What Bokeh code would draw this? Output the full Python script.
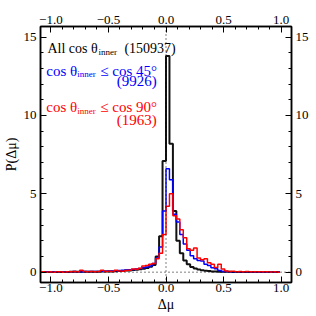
import numpy as np
from bokeh.plotting import figure
from bokeh.models import (Range1d, LinearAxis, SingleIntervalTicker, Span, Label,
                          CustomJSTickFormatter, BasicTickFormatter)
from bokeh.embed import file_html
from bokeh.resources import INLINE

# ---- data ----
BIN_START = -1.08
BIN_WIDTH = 0.03

all_vals = [0.01, 0.01, 0.01, 0.01, 0.01, 0.01, 0.01, 0.01, 0.02, 0.02, 0.02, 0.02, 0.02,
            0.02, 0.03, 0.03, 0.03, 0.04, 0.04, 0.05, 0.05, 0.06, 0.07, 0.08, 0.10, 0.11,
            0.13, 0.15, 0.18, 0.22, 0.27, 0.35, 0.45, 1.0, 2.3, 7.1,
            13.8, 8.2, 3.9, 2.0, 1.2, 0.75, 0.5, 0.33, 0.24, 0.17, 0.12, 0.09, 0.07, 0.05,
            0.04, 0.03, 0.03, 0.02, 0.02,
            0.01, 0.01, 0.01, 0.01, 0.01, 0.01, 0.01, 0.01, 0.01, 0.01, 0.01, 0.01, 0.01, 0.01]

blue_vals = [0.02, 0.02, 0.03, 0.02, 0.03, 0.02, 0.03, 0.03, 0.02, 0.04, 0.03, 0.03, 0.04,
             0.04, 0.05, 0.04, 0.05, 0.06, 0.06, 0.07, 0.08, 0.09, 0.10, 0.12, 0.13, 0.15,
             0.17, 0.20, 0.24, 0.28, 0.33, 0.40, 0.55, 0.90, 1.6, 3.9,
             6.6, 5.9, 3.7, 3.2, 2.4, 1.8, 1.4, 1.05, 0.85, 0.75, 0.72, 0.50, 0.42, 0.28,
             0.22, 0.10, 0.05, 0.04, 0.03,
             0.03, 0.03, 0.02, 0.02, 0.02, 0.02, 0.01, 0.01, 0.01, 0.01, 0.01, 0.01, 0.01, 0.01]

red_vals = [0.02, 0.0, 0.02, 0.0, 0.03, 0.02, 0.0, 0.03, 0.02, 0.04, 0.02, 0.12, 0.05,
            0.03, 0.05, 0.02, 0.04, 0.12, 0.05, 0.06, 0.04, 0.12, 0.08, 0.06, 0.10, 0.12,
            0.20, 0.18, 0.25, 0.40, 0.43, 0.50, 0.55, 0.85, 1.2, 2.4,
            4.2, 5.0, 3.6, 3.4, 2.7, 2.2, 1.5, 1.4, 1.55, 0.9, 0.8, 0.85, 0.6, 0.5,
            0.3, 0.5, 0.2, 0.08, 0.05,
            0.06, 0.03, 0.05, 0.02, 0.04, 0.03, 0.02, 0.03, 0.02, 0.02, 0.03, 0.01, 0.02, 0.0]

x_ticks_major = 0.5
y_ticks_major = 5

label_all = ("All cos θ", "inner", "(150937)")
label_45 = ("cos θ", "inner", "≤ cos 45°", "(9926)")
label_90 = ("cos θ", "inner", "≤ cos 90°", "(1963)")
x_title = "Δμ"
y_title = "P(Δμ)"

FONT = "Liberation Serif"

edges = BIN_START + BIN_WIDTH * np.arange(len(all_vals) + 1)


def step_xy(vals):
    return list(edges), list(vals) + [vals[-1]]


p = figure(width=316, height=316, x_range=Range1d(-1.09, 1.09), y_range=Range1d(-0.66, 15.68),
           output_backend="svg", toolbar_location=None,
           x_axis_location=None, y_axis_location=None,
           min_border_left=36, min_border_right=25, min_border_top=26, min_border_bottom=34)
p.xgrid.visible = False
p.ygrid.visible = False
p.outline_line_color = "black"
p.outline_line_width = 1.5
p.background_fill_color = "white"
p.border_fill_color = "white"

xfmt_code = "return (tick < -1e-9 ? '\u2212' : '') + Math.abs(tick).toFixed(1);"


def make_axis(kind, standoff):
    if kind == "x":
        tk = SingleIntervalTicker(interval=x_ticks_major, num_minor_ticks=5)
        fmt = CustomJSTickFormatter(code=xfmt_code)
    else:
        tk = SingleIntervalTicker(interval=y_ticks_major, num_minor_ticks=5)
        fmt = BasicTickFormatter()
    ax = LinearAxis(ticker=tk, formatter=fmt)
    ax.major_tick_in = 6
    ax.major_tick_out = 0
    ax.minor_tick_in = 3
    ax.minor_tick_out = 0
    ax.axis_line_color = "black"
    ax.axis_line_width = 1.5
    ax.major_tick_line_color = "black"
    ax.minor_tick_line_color = "black"
    ax.major_label_text_font = FONT
    ax.major_label_text_font_size = "13px"
    ax.major_label_text_color = "black"
    ax.major_label_standoff = standoff
    ax.axis_label_text_font = FONT
    ax.axis_label_text_font_size = "14px"
    ax.axis_label_text_font_style = "normal"
    ax.axis_label_text_color = "black"
    return ax


bottom = make_axis("x", 1)
bottom.axis_label = x_title
bottom.axis_label_standoff = 2
p.add_layout(bottom, "below")
p.add_layout(make_axis("x", 3), "above")
left = make_axis("y", 4)
left.axis_label = y_title
left.axis_label_standoff = 2
p.add_layout(left, "left")
p.add_layout(make_axis("y", 4), "right")

p.add_layout(Span(location=0, dimension="height", line_color="black", line_width=1, line_dash="1 3"))
p.add_layout(Span(location=0, dimension="width", line_color="black", line_width=1, line_dash="1 3"))

xs, ys = step_xy(all_vals)
p.step(xs, ys, mode="after", line_color="#111111", line_width=2)
xs, ys = step_xy(blue_vals)
p.step(xs, ys, mode="after", line_color="#0000ff", line_width=1.5)
xs, ys = step_xy(red_vals)
p.step(xs, ys, mode="after", line_color="#ff0000", line_width=1.5)


def add_text(x, y, txt, size, color, xoff=0, yoff=0, align="left"):
    p.add_layout(Label(x=x, y=y, text=txt, x_offset=xoff, y_offset=yoff,
                       text_font=FONT, text_font_size=f"{size}px", text_color=color,
                       text_align=align, text_baseline="alphabetic"))


# legend-like texts
add_text(-1.03, 14.28, label_all[0], 14, "black")
add_text(-1.03, 14.28, label_all[1], 9, "black", xoff=51, yoff=-3.5)
add_text(-1.03, 14.28, label_all[2], 14, "black", xoff=77)

add_text(-1.04, 12.87, label_45[0], 15, "#0000ff")
add_text(-1.04, 12.87, label_45[1], 9, "#0000ff", xoff=31, yoff=-3.5)
add_text(-1.04, 12.87, label_45[2], 15, "#0000ff", xoff=54)
add_text(-0.08, 12.17, label_45[3], 15, "#0000ff", align="right")

add_text(-1.04, 10.51, label_90[0], 15, "#ff0000")
add_text(-1.04, 10.51, label_90[1], 9, "#ff0000", xoff=31, yoff=-3.5)
add_text(-1.04, 10.51, label_90[2], 15, "#ff0000", xoff=54)
add_text(-0.08, 9.74, label_90[3], 15, "#ff0000", align="right")

open("out.html", "w").write(file_html(p, INLINE))
